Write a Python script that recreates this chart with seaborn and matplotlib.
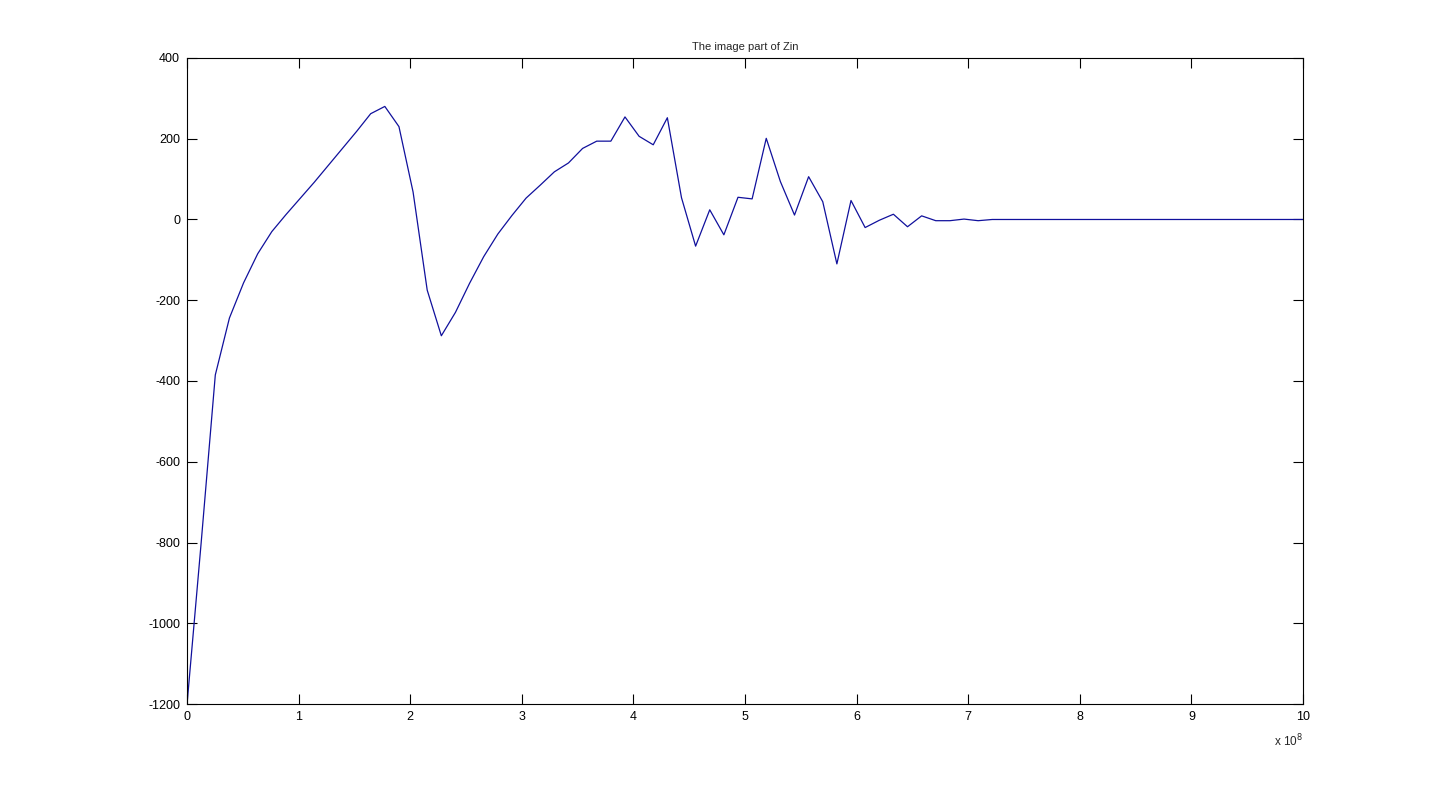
#!/usr/bin/env python
# -*- coding: utf-8 -*-

import matplotlib
matplotlib.use('Agg')
import matplotlib.pyplot as plt
import numpy as np
import seaborn as sns

# frequency axis: 80 samples from 0 to 1 GHz
freq = np.linspace(0, 1e9, 80)

# imaginary part of the input impedance
zin_imag = [
    -1200, -800, -385, -244, -157, -85, -30, 12, 52, 92,
    134, 176, 218, 262, 280, 230, 68, -175, -288, -230,
    -158, -92, -36, 10, 53, 85, 118, 140, 176, 194,
    194, 254, 206, 185, 252, 54, -66, 24, -38, 55,
    51, 201, 94, 11, 106, 44, -110, 47, -20, -2,
    13, -18, 9, -3, -3, 1, -3, 0, 0, 0,
    0, 0, 0, 0, 0, 0, 0, 0, 0, 0,
    0, 0, 0, 0, 0, 0, 0, 0, 0, 0,
]

x_ticks = np.arange(0, 11) * 1e8
x_tick_labels = [str(i) for i in range(11)]
y_ticks = np.arange(-1200, 401, 200)

sns.set_style('white')
plt.rcParams['font.family'] = ['Liberation Sans', 'DejaVu Sans']

fig = plt.figure(figsize=(14.4, 7.92), dpi=100)
ax = fig.add_axes([0.1299, 0.1111, 0.7750, 0.8157])

sns.lineplot(x=freq, y=zin_imag, ax=ax, color='#10109c', linewidth=0.9,
             sort=False, estimator=None)

ax.set_xlim(0, 1e9)
ax.set_ylim(-1200, 400)
ax.set_xticks(x_ticks)
ax.set_xticklabels(x_tick_labels)
ax.set_yticks(y_ticks)
ax.set_yticklabels([str(v) for v in y_ticks])

# matlab-like box with inward ticks on every side
ax.tick_params(direction='in', length=7, width=0.8, bottom=True, left=True,
               top=True, right=True, labelsize=9, pad=5, colors='black')
for sp in ax.spines.values():
    sp.set_visible(True)
    sp.set_color('black')
    sp.set_linewidth(0.8)

ax.set_title('The image part of Zin', fontsize=8, pad=6)
ax.text(1.0, -0.045, r'x 10$^{8}$', transform=ax.transAxes,
        fontsize=8.5, ha='right', va='top')

fig.savefig('out.png', dpi=100, facecolor='white')
